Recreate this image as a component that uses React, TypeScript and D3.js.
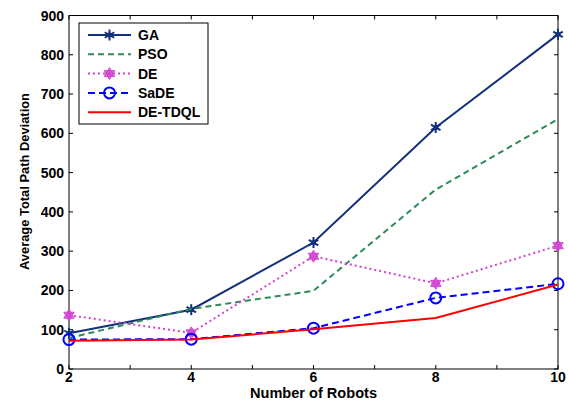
import { useRef, useEffect } from 'react';
import * as d3 from 'd3';

const robots = [2, 4, 6, 8, 10];
const gaValues = [91, 151, 322, 615, 852];
const psoValues = [79, 153, 199, 457, 636];
const deValues = [137, 92, 287, 218, 314];
const sadeValues = [75, 76, 104, 181, 217];
const tdqlValues = [72, 75, 101, 130, 215];

const yTicks = [0, 100, 200, 300, 400, 500, 600, 700, 800, 900];
const xTicks = [2, 3, 4, 5, 6, 7, 8, 9, 10];
const xLabels = [2, 4, 6, 8, 10];

const WIDTH = 568;
const HEIGHT = 407;
const MARGIN = { top: 15.5, right: 10, bottom: 38, left: 69 };
const FONT = 'Arial, "Liberation Sans", sans-serif';

type Series = {
  name: string;
  values: number[];
  color: string;
  dash: string;
  width: number;
  marker: 'star' | 'hexagram' | 'circle' | 'none';
};

const series: Series[] = [
  { name: 'GA', values: gaValues, color: '#13307a', dash: '', width: 2, marker: 'star' },
  { name: 'PSO', values: psoValues, color: '#2e8b57', dash: '6,4', width: 2, marker: 'none' },
  { name: 'DE', values: deValues, color: '#d046d0', dash: '2,3', width: 2, marker: 'hexagram' },
  { name: 'SaDE', values: sadeValues, color: '#0000ff', dash: '7,4', width: 2, marker: 'circle' },
  { name: 'DE-TDQL', values: tdqlValues, color: '#ff0000', dash: '', width: 2, marker: 'none' },
];

function drawMarker(g: any, kind: string, x: number, y: number, color: string) {
  if (kind === 'circle') {
    g.append('circle')
      .attr('cx', x).attr('cy', y).attr('r', 5.5)
      .attr('fill', 'none').attr('stroke', color).attr('stroke-width', 2);
  } else if (kind === 'star') {
    // six-armed asterisk, like MATLAB's filled star marker at small size
    const r = 5.5;
    d3.range(3).forEach((i) => {
      const a = (i * Math.PI) / 3 + Math.PI / 2;
      g.append('line')
        .attr('x1', x - r * Math.cos(a)).attr('y1', y - r * Math.sin(a))
        .attr('x2', x + r * Math.cos(a)).attr('y2', y + r * Math.sin(a))
        .attr('stroke', color).attr('stroke-width', 2);
    });
    g.append('circle').attr('cx', x).attr('cy', y).attr('r', 2.5).attr('fill', color);
  } else if (kind === 'hexagram') {
    const r = 6;
    const tri = (off: number) =>
      d3.range(3).map((i) => {
        const a = off + (i * 2 * Math.PI) / 3;
        return [x + r * Math.sin(a), y - r * Math.cos(a)];
      });
    [0, Math.PI].forEach((off) => {
      g.append('path')
        .attr('d', 'M' + tri(off).map((p) => p.join(',')).join('L') + 'Z')
        .attr('fill', color).attr('fill-opacity', 0.75)
        .attr('stroke', color).attr('stroke-width', 1);
    });
  }
}

export default function App() {
  const svgRef = useRef<SVGSVGElement>(null);

  useEffect(() => {
    if (!svgRef.current) return;
    const svg = d3.select(svgRef.current);
    svg.selectAll('*').remove();

    const innerW = WIDTH - MARGIN.left - MARGIN.right;
    const innerH = HEIGHT - MARGIN.top - MARGIN.bottom;

    const x = d3.scaleLinear().domain([2, 10]).range([0, innerW]);
    const y = d3.scaleLinear().domain([0, 900]).range([innerH, 0]);

    const g = svg.append('g').attr('transform', `translate(${MARGIN.left},${MARGIN.top})`);

    // frame
    g.append('rect')
      .attr('width', innerW).attr('height', innerH)
      .attr('fill', 'white').attr('stroke', '#000').attr('stroke-width', 1);

    // ticks on all four sides, pointing inward
    const tl = 4;
    xTicks.forEach((t) => {
      g.append('line').attr('x1', x(t)).attr('x2', x(t)).attr('y1', innerH).attr('y2', innerH - tl).attr('stroke', '#000');
      g.append('line').attr('x1', x(t)).attr('x2', x(t)).attr('y1', 0).attr('y2', tl).attr('stroke', '#000');
    });
    yTicks.forEach((t) => {
      g.append('line').attr('x1', 0).attr('x2', tl).attr('y1', y(t)).attr('y2', y(t)).attr('stroke', '#000');
      g.append('line').attr('x1', innerW).attr('x2', innerW - tl).attr('y1', y(t)).attr('y2', y(t)).attr('stroke', '#000');
    });

    // tick labels
    g.selectAll('.ylab').data(yTicks).enter().append('text')
      .attr('x', -5).attr('y', (d) => y(d)).attr('dy', '0.36em')
      .attr('text-anchor', 'end')
      .attr('font-family', FONT).attr('font-weight', 'bold').attr('font-size', 14)
      .text((d) => d);

    g.selectAll('.xlab').data(xLabels).enter().append('text')
      .attr('x', (d) => x(d)).attr('y', innerH + 13)
      .attr('text-anchor', 'middle')
      .attr('font-family', FONT).attr('font-weight', 'bold').attr('font-size', 14)
      .text((d) => d);

    // axis titles
    svg.append('text')
      .attr('x', 313.5).attr('y', 397.5)
      .attr('text-anchor', 'middle')
      .attr('font-family', FONT).attr('font-weight', 'bold').attr('font-size', 14)
      .attr('textLength', 127).attr('lengthAdjust', 'spacingAndGlyphs')
      .text('Number of Robots');

    svg.append('text')
      .attr('transform', `translate(29,181.5) rotate(-90)`)
      .attr('text-anchor', 'middle')
      .attr('font-family', FONT).attr('font-weight', 'bold').attr('font-size', 12.5)
      .attr('textLength', 177).attr('lengthAdjust', 'spacingAndGlyphs')
      .text('Average Total Path Deviation');

    // lines
    const line = d3.line<number>()
      .x((_, i) => x(robots[i]))
      .y((d) => y(d));

    series.forEach((s) => {
      g.append('path')
        .datum(s.values)
        .attr('fill', 'none')
        .attr('stroke', s.color)
        .attr('stroke-width', s.width)
        .attr('stroke-dasharray', s.dash || null)
        .attr('d', line);
      s.values.forEach((v, i) => drawMarker(g, s.marker, x(robots[i]), y(v), s.color));
    });

    // legend
    const lg = svg.append('g').attr('transform', 'translate(79,23)');
    lg.append('rect')
      .attr('width', 129).attr('height', 101)
      .attr('fill', 'white').attr('stroke', '#000').attr('stroke-width', 1);
    series.forEach((s, i) => {
      const ly = 12 + i * 19.3;
      lg.append('line')
        .attr('x1', 9).attr('x2', 52).attr('y1', ly).attr('y2', ly)
        .attr('stroke', s.color).attr('stroke-width', s.width)
        .attr('stroke-dasharray', s.dash || null);
      drawMarker(lg, s.marker, 30.5, ly, s.color);
      lg.append('text')
        .attr('x', 59).attr('y', ly).attr('dy', '0.36em')
        .attr('font-family', FONT).attr('font-weight', 'bold').attr('font-size', 14)
        .text(s.name);
    });
  }, []);

  return (
    <svg
      ref={svgRef}
      width={WIDTH}
      height={HEIGHT}
      style={{ position: 'absolute', left: 0, top: 0, background: 'white' }}
    />
  );
}
